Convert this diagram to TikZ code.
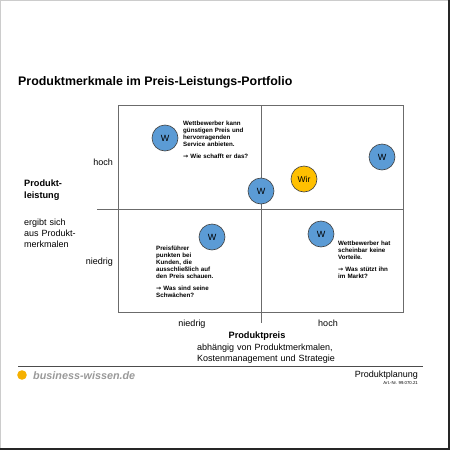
\documentclass[tikz,border=0pt]{standalone}
\usepackage{fontspec}
\setmainfont{Liberation Sans}
\newfontfamily\pfeilfont{DejaVu Sans}
\newcommand{\pfeil}{{\pfeilfont\bfseries →}}
\definecolor{wblau}{HTML}{5B9BD5}
\definecolor{wgold}{HTML}{FFC000}
\definecolor{logogelb}{HTML}{F5B000}
\begin{document}
\begin{tikzpicture}[
    x=1pt, y=-1pt,
    achse/.style={
        draw=black!58,
        line width=0.9pt
    },
    anbieter/.style={
        circle,
        draw=black!75,
        line width=0.6pt,
        minimum size=26pt,
        inner sep=0pt,
        fill=wblau,
        font=\fontsize{9}{10}\selectfont
    },
    notiz/.style={
        anchor=base west,
        inner sep=0pt,
        text width=80pt,
        align=left,
        font=\bfseries\fontsize{6.2}{7.2}\selectfont
    },
    beschriftung/.style={
        inner sep=0pt,
        font=\fontsize{9}{11}\selectfont
    },
    titel/.style={
        inner sep=0pt,
        font=\bfseries\fontsize{9.2}{12}\selectfont
    }
]

\useasboundingbox (0,0) rectangle (450,450);

% Rahmen
\draw[black!20, line width=1pt] (0.5,449) -- (0.5,0.5) -- (449,0.5);
\draw[black!85, line width=1.5pt] (448.75,0) -- (448.75,448.75) -- (0,448.75);

% Überschrift
\node[anchor=base west, inner sep=0pt, font=\bfseries\fontsize{12.4}{14}\selectfont]
    (ueberschrift) at (18,85) {Produktmerkmale im Preis-Leistungs-Portfolio};

% Portfolio
\draw[achse] (118,105.5) rectangle (403,312);
\draw[achse] (97,209) -- (403,209);
\draw[achse] (261,105.5) -- (261,323);

% Achse Produktleistung
\node[beschriftung, anchor=base east] (lhoch) at (113,165) {hoch};
\node[beschriftung, anchor=base east] (lniedrig) at (113,264.5) {niedrig};
\node[titel, anchor=base west, align=left] (leistung) at (24,198) {Produkt-\\leistung};
\node[beschriftung, anchor=base west, align=left, text width=60pt] (leistungtext) at (24,225)
    {ergibt sich\\aus Produkt-\\merkmalen};

% Achse Produktpreis
\node[beschriftung, anchor=base] (pniedrig) at (192,326) {niedrig};
\node[beschriftung, anchor=base] (phoch) at (328,326) {hoch};
\node[titel, anchor=base] (preis) at (257,338.5) {Produktpreis};
\node[beschriftung, anchor=base west, align=left, text width=160pt] (preistext) at (197,350)
    {abhängig von Produktmerkmalen,\\Kostenmanagement und Strategie};

% Wettbewerber
\node[anbieter] (wLinksOben) at (165,138) {W};
\node[anbieter] (wMitte) at (261,191) {W};
\node[anbieter, fill=wgold, font=\fontsize{8.5}{10}\selectfont] (wir) at (304,179) {Wir};
\node[anbieter] (wRechtsOben) at (382,157) {W};
\node[anbieter] (wLinksUnten) at (212,237) {W};
\node[anbieter] (wRechtsUnten) at (321,234) {W};

% Notizen
\node[notiz] (notizOben) at (183,125.3) {
    Wettbewerber kann\\
    günstigen Preis und\\
    hervorragenden\\
    Service anbieten.\\[4.6pt]
    \pfeil{} Wie schafft er das?};
\node[notiz] (notizLinks) at (156,250) {
    Preisführer\\
    punkten bei\\
    Kunden, die\\
    ausschließlich auf\\
    den Preis schauen.\\[4.6pt]
    \pfeil{} Was sind seine\\
    Schwächen?};
\node[notiz] (notizRechts) at (338,245.5) {
    Wettbewerber hat\\
    scheinbar keine\\
    Vorteile.\\[4.6pt]
    \pfeil{} Was stützt ihn\\
    im Markt?};

% Fußzeile
\draw[black!70, line width=0.9pt] (18,366.5) -- (423,366.5);
\fill[logogelb] (22,375) circle (4.8);
\node[anchor=base west, inner sep=0pt, text=black!40, font=\bfseries\itshape\fontsize{10.8}{12}\selectfont]
    (logo) at (33,379) {business-wissen.de};
\node[anchor=base east, inner sep=0pt, font=\fontsize{9}{10}\selectfont]
    (planung) at (418,377) {Produktplanung};
\node[anchor=base east, inner sep=0pt, font=\fontsize{4.3}{5}\selectfont]
    (artnr) at (418,384) {Art.-Nr. 99.070.21};

\end{tikzpicture}
\end{document}
